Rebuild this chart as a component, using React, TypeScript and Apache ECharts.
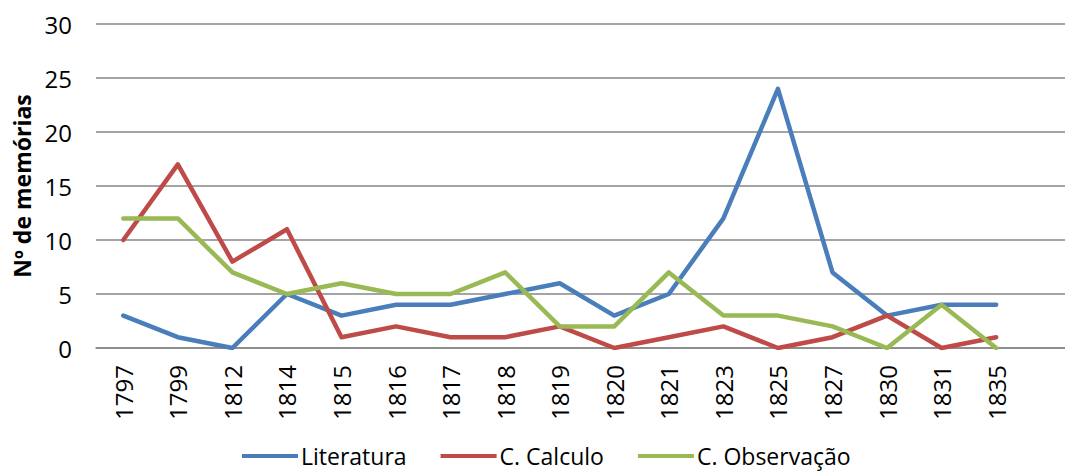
import React, { useEffect, useRef } from "react";
import * as echarts from "echarts";

const categories = ["1797", "1799", "1812", "1814", "1815", "1816", "1817", "1818", "1819", "1820", "1821", "1823", "1825", "1827", "1830", "1831", "1835", ""];
const literatura = [3, 1, 0, 5, 3, 4, 4, 5, 6, 3, 5, 12, 24, 7, 3, 4, 4, null];
const calculo = [10, 17, 8, 11, 1, 2, 1, 1, 2, 0, 1, 2, 0, 1, 3, 0, 1, null];
const observacao = [12, 12, 7, 5, 6, 5, 5, 7, 2, 2, 7, 3, 3, 2, 0, 4, 0, null];
const yTicks = { min: 0, max: 30, interval: 5 };

const FONT = "'Open Sans', 'Liberation Sans', sans-serif";

export default function App() {
  const ref = useRef<HTMLDivElement>(null);
  useEffect(() => {
    const chart = echarts.init(ref.current!, undefined, { renderer: "svg" });
    const mk = (name: string, data: any[], color: string) => ({
      name,
      type: "line",
      data,
      symbol: "none",
      lineStyle: { width: 4.5, color, cap: "round", join: "round" },
      itemStyle: { color },
    });
    chart.setOption({
      animation: false,
      textStyle: { fontFamily: FONT },
      grid: { left: 96, top: 24, width: 982, height: 324, containLabel: false, outerBoundsMode: "none" },
      legend: {
        bottom: 3,
        left: 237,
        itemWidth: 56,
        itemHeight: 4,
        itemGap: 34,
        icon: "rect",
        padding: [0, 5, 0, 5],
        textStyle: { fontSize: 23, lineHeight: 24, color: "#000", fontFamily: FONT, padding: [0, 0, 0, -2] },
        data: ["Literatura", "C. Calculo", "C. Observação"],
      },
      xAxis: {
        type: "category",
        data: categories,
        boundaryGap: true,
        axisLine: { lineStyle: { color: "#868686", width: 1.5 } },
        axisTick: { alignWithLabel: true, length: 8, lineStyle: { color: "#868686", width: 1.5 } },
        axisLabel: { rotate: 90, fontSize: 24, color: "#000", margin: 17, interval: 0, fontFamily: FONT },
      },
      yAxis: {
        type: "value",
        min: yTicks.min,
        max: yTicks.max,
        interval: yTicks.interval,
        name: "Nº de memórias",
        nameLocation: "middle",
        nameGap: 60,
        nameTextStyle: { fontSize: 23, fontWeight: "bold", color: "#000", fontFamily: FONT },
        axisLine: { show: false },
        axisTick: { show: false },
        axisLabel: { fontSize: 24, color: "#000", margin: 24, fontFamily: FONT },
        splitLine: { lineStyle: { color: "#868686", width: 1.5 } },
      },
      series: [
        mk("Literatura", literatura, "#4a7ebb"),
        mk("C. Calculo", calculo, "#be4b48"),
        mk("C. Observação", observacao, "#98b954"),
      ],
    });
    return () => chart.dispose();
  }, []);
  return <div ref={ref} style={{ width: 1065, height: 471, position: "absolute", left: 0, top: 0 }} />;
}
